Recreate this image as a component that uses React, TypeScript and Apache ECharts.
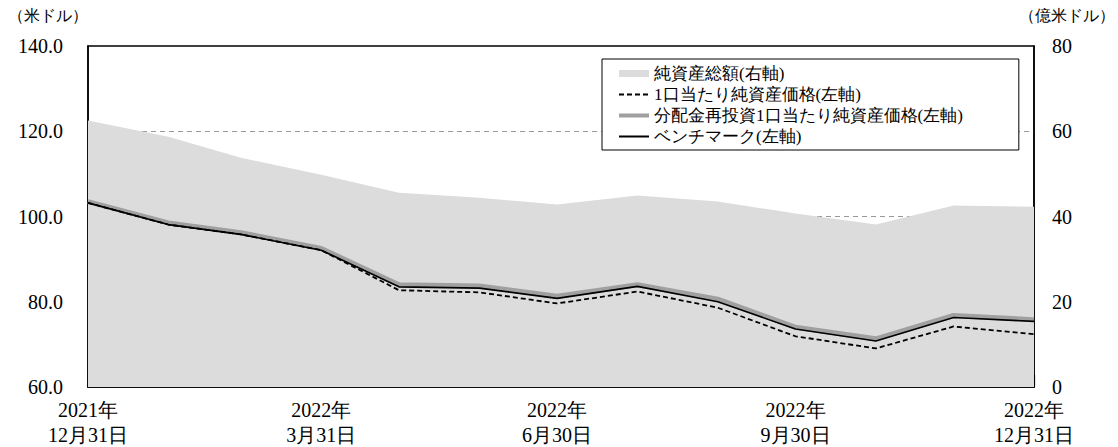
import React, { useEffect, useRef } from "react";
import * as echarts from "echarts";

const dates = [
  "2021-12-31", "2022-01-31", "2022-02-28", "2022-03-31", "2022-04-30", "2022-05-31",
  "2022-06-30", "2022-07-31", "2022-08-31", "2022-09-30", "2022-10-31", "2022-11-30", "2022-12-31",
];
const netAssets = [62.5, 58.7, 53.8, 49.8, 45.6, 44.4, 42.8, 44.9, 43.5, 40.7, 38.1, 42.6, 42.3];
const nav = [103.2, 98.1, 95.8, 92.1, 82.7, 82.2, 79.6, 82.4, 78.6, 71.9, 69.05, 74.2, 72.4];
const reinvNav = [103.5, 98.5, 96.2, 92.5, 84.0, 83.7, 81.3, 84.0, 80.6, 74.0, 71.3, 76.8, 75.8];
const benchmark = [103.2, 98.1, 95.8, 92.1, 83.5, 83.2, 80.8, 83.6, 80.0, 73.6, 70.8, 76.3, 75.4];
const tickDates = ["2021-12-31", "2022-03-31", "2022-06-30", "2022-09-30", "2022-12-31"];
const tickLabels = ["2021年\n12月31日", "2022年\n3月31日", "2022年\n6月30日", "2022年\n9月30日", "2022年\n12月31日"];
const seriesNames = ["純資産総額(右軸)", "1口当たり純資産価格(左軸)", "分配金再投資1口当たり純資産価格(左軸)", "ベンチマーク(左軸)"];

const base = Date.UTC(2021, 11, 31);
const dayOf = (s: string) => {
  const [y, m, d] = s.split("-").map(Number);
  return Math.round((Date.UTC(y, m - 1, d) - base) / 86400000);
};
const days = dates.map(dayOf);
const tickDays = tickDates.map(dayOf);
const pairs = (vals: number[]) => days.map((d, i) => [d, vals[i]]);

const FONT = "Liberation Serif";
const noSymbol = { color: "rgba(0,0,0,0)", opacity: 0, borderWidth: 0 };

export default function App() {
  const ref = useRef<HTMLDivElement>(null);
  useEffect(() => {
    if (!ref.current) return;
    const chart = echarts.init(ref.current, null, { renderer: "svg" });
    chart.setOption({
      animation: false,
      backgroundColor: "#fff",
      grid: { left: 88, right: 84, top: 46, bottom: 59, show: true, borderColor: "#000", borderWidth: 1.5, backgroundColor: "transparent" },
      graphic: [
        { type: "text", left: 8, top: 7, style: { text: "（米ドル）", fontFamily: FONT, fontSize: 16, fill: "#000" } },
        { type: "text", right: 3, top: 7, style: { text: "（億米ドル）", fontFamily: FONT, fontSize: 16, fill: "#000" } },
      ],
      legend: {
        left: 602, top: 59, orient: "vertical",
        backgroundColor: "#fff", borderColor: "#000", borderWidth: 1,
        padding: [6, 56, 5, 15], itemWidth: 30, itemHeight: 7, itemGap: 4,
        textStyle: { fontFamily: FONT, fontSize: 17, color: "#000" },
        data: [
          { name: seriesNames[0], icon: "rect" },
          { name: seriesNames[1], itemStyle: noSymbol },
          { name: seriesNames[2], itemStyle: noSymbol, lineStyle: { width: 4, color: "#a0a0a0" } },
          { name: seriesNames[3], itemStyle: noSymbol },
        ],
      },
      xAxis: {
        type: "value", min: 0, max: 365,
        axisLine: { lineStyle: { color: "#000", width: 1.5 } },
        axisTick: { show: true, inside: true, length: 12, lineStyle: { color: "#000", width: 1.2 }, customValues: tickDays },
        axisLabel: {
          customValues: tickDays, margin: 10, fontSize: 20, lineHeight: 25, color: "#000", fontFamily: FONT,
          formatter: (v: number) => { const i = tickDays.indexOf(Math.round(v)); return i >= 0 ? tickLabels[i] : ""; },
        },
        splitLine: { show: false },
      },
      yAxis: [
        {
          type: "value", min: 60, max: 140, interval: 20, position: "left",
          axisLine: { show: true, lineStyle: { color: "#000", width: 1.5 } },
          axisTick: { show: false },
          axisLabel: { formatter: (v: number) => v.toFixed(1), fontSize: 20, margin: 25, color: "#000", fontFamily: FONT },
          splitLine: { show: true, showMinLine: false, showMaxLine: false, lineStyle: { color: "#999", type: [5, 4], width: 1 } },
        },
        {
          type: "value", min: 0, max: 80, interval: 20, position: "right",
          axisLine: { show: true, lineStyle: { color: "#000", width: 1.5 } },
          axisTick: { show: false },
          axisLabel: { fontSize: 20, margin: 18, color: "#000", fontFamily: FONT },
          splitLine: { show: false },
        },
      ],
      series: [
        {
          name: seriesNames[0], type: "line", yAxisIndex: 1, data: pairs(netAssets), symbol: "none",
          lineStyle: { width: 0, color: "#dcdcdc" }, itemStyle: { color: "#dcdcdc" },
          areaStyle: { color: "#dcdcdc", opacity: 1 }, z: 1,
        },
        {
          name: seriesNames[2], type: "line", yAxisIndex: 0, data: pairs(reinvNav), symbol: "none",
          lineStyle: { width: 5, color: "#a0a0a0" }, itemStyle: { color: "#a0a0a0" }, z: 2,
        },
        {
          name: seriesNames[1], type: "line", yAxisIndex: 0, data: pairs(nav), symbol: "none",
          lineStyle: { width: 1.8, color: "#000", type: [5, 3] }, itemStyle: { color: "#000" }, z: 3,
        },
        {
          name: seriesNames[3], type: "line", yAxisIndex: 0, data: pairs(benchmark), symbol: "none",
          lineStyle: { width: 1.6, color: "#000" }, itemStyle: { color: "#000" }, z: 4,
        },
      ],
    });
    return () => chart.dispose();
  }, []);
  return <div ref={ref} style={{ position: "absolute", left: 0, top: 0, width: 1118, height: 447 }} />;
}
